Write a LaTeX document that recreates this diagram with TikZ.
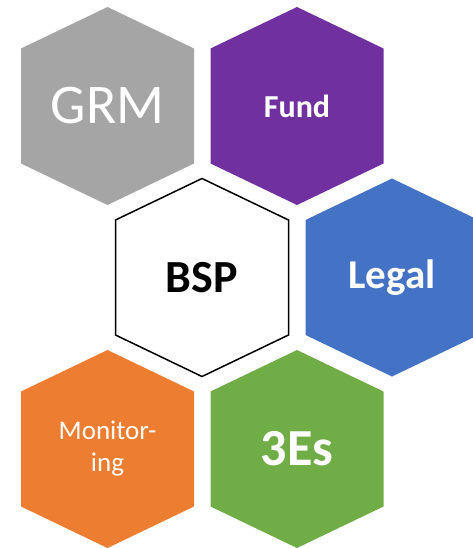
\documentclass[tikz,border=0pt]{standalone}
\usepackage{fontspec}
\setmainfont{Carlito}
\usetikzlibrary{backgrounds}

\definecolor{grmgray}{HTML}{A5A5A5}
\definecolor{fundpurple}{HTML}{7030A0}
\definecolor{legalblue}{HTML}{4472C4}
\definecolor{monorange}{HTML}{ED7D31}
\definecolor{esgreen}{HTML}{70AD47}

\tikzset{
  hexagon/.style={insert path={++(0,-99) -- ++(86.5,41.5) -- ++(0,115) -- ++(-86.5,41.5) -- ++(-86.5,-41.5) -- ++(0,-115) -- cycle}},
  hexlabel/.style={text=white,align=center,inner sep=0pt}
}

\begin{document}
\begin{tikzpicture}[x=1pt,y=-1pt]
  \useasboundingbox (0,0) rectangle (473,548);
  \node[hexlabel,font=\fontsize{56}{64}\selectfont] at (107.5,106) (grm) {GRM};
  \node[hexlabel,font=\fontsize{32}{38}\selectfont\bfseries] at (297,106) (fund) {Fund};
  \node[hexlabel,text=black,font=\fontsize{46}{54}\selectfont\bfseries] at (202,277.5) (bsp) {BSP};
  \node[hexlabel,font=\fontsize{41}{48}\selectfont\bfseries] at (392,277.5) (legal) {Legal};
  \node[hexlabel,font=\fontsize{27}{32}\selectfont] at (107.5,449) (monitoring) {Monitor-\\ing};
  \node[hexlabel,font=\fontsize{52}{60}\selectfont\bfseries] at (297,449) (threees) {3Es};
  \begin{pgfonlayer}{background}
    \foreach \hex/\col in {grm/grmgray,fund/fundpurple,legal/legalblue,monitoring/monorange,threees/esgreen}
      \fill[\col] (\hex.center) [hexagon];
    \draw[line width=1.5pt,line join=miter,fill=white] (bsp.center) [hexagon];
  \end{pgfonlayer}
\end{tikzpicture}
\end{document}
